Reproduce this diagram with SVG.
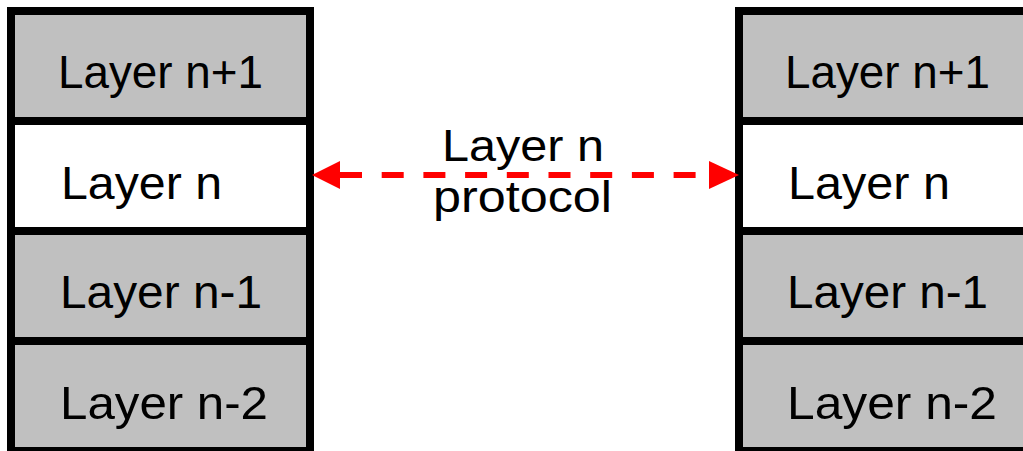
<svg xmlns="http://www.w3.org/2000/svg" width="1023" height="451" viewBox="0 0 1023 451">
  <style>
    .cell { stroke: #000; stroke-width: 8; }
    .grey { fill: #c0c0c0; }
    .white { fill: #fff; }
    .lbl { font-family: "Liberation Sans", Arial, sans-serif; font-size: 47px; fill: #000; }
    .mid { font-size: 44px; }
    .proto { stroke: #ff0000; stroke-width: 6; stroke-dasharray: 22 19.7; fill: none; }
    .head { fill: #ff0000; }
  </style>
  <rect width="1023" height="451" fill="#fff"/>

  <!-- left protocol stack -->
  <g id="left-n-plus-1">
    <rect class="cell grey" x="11" y="11" width="299" height="110"/>
    <text class="lbl" x="58" y="88" textLength="205" lengthAdjust="spacingAndGlyphs">Layer n+1</text>
  </g>
  <g id="left-n">
    <rect class="cell white" x="11" y="121" width="299" height="110"/>
    <text class="lbl" x="61" y="199" textLength="161" lengthAdjust="spacingAndGlyphs">Layer n</text>
  </g>
  <g id="left-n-minus-1">
    <rect class="cell grey" x="11" y="231" width="299" height="110"/>
    <text class="lbl" x="60" y="308" textLength="202" lengthAdjust="spacingAndGlyphs">Layer n-1</text>
  </g>
  <g id="left-n-minus-2">
    <rect class="cell grey" x="11" y="341" width="299" height="110"/>
    <text class="lbl" x="60" y="419" textLength="208" lengthAdjust="spacingAndGlyphs">Layer n-2</text>
  </g>

  <!-- right protocol stack -->
  <g id="right-n-plus-1">
    <rect class="cell grey" x="739" y="11" width="310" height="110"/>
    <text class="lbl" x="785" y="88" textLength="205" lengthAdjust="spacingAndGlyphs">Layer n+1</text>
  </g>
  <g id="right-n">
    <rect class="cell white" x="739" y="121" width="310" height="110"/>
    <text class="lbl" x="788" y="199" textLength="162" lengthAdjust="spacingAndGlyphs">Layer n</text>
  </g>
  <g id="right-n-minus-1">
    <rect class="cell grey" x="739" y="231" width="310" height="110"/>
    <text class="lbl" x="787" y="308" textLength="201" lengthAdjust="spacingAndGlyphs">Layer n-1</text>
  </g>
  <g id="right-n-minus-2">
    <rect class="cell grey" x="739" y="341" width="310" height="110"/>
    <text class="lbl" x="787" y="419" textLength="210" lengthAdjust="spacingAndGlyphs">Layer n-2</text>
  </g>

  <!-- peer-to-peer protocol connector -->
  <g id="connectors">
    <line class="proto" x1="340" y1="175" x2="709" y2="175"/>
    <path class="head" d="M312,175 L340,161 L340,189 Z"/>
    <path class="head" d="M739,175 L709,161 L709,189 Z"/>
    <text class="lbl mid" x="442" y="161" textLength="162" lengthAdjust="spacingAndGlyphs">Layer n</text>
    <text class="lbl mid" x="433" y="212" textLength="179" lengthAdjust="spacingAndGlyphs">protocol</text>
  </g>
</svg>
